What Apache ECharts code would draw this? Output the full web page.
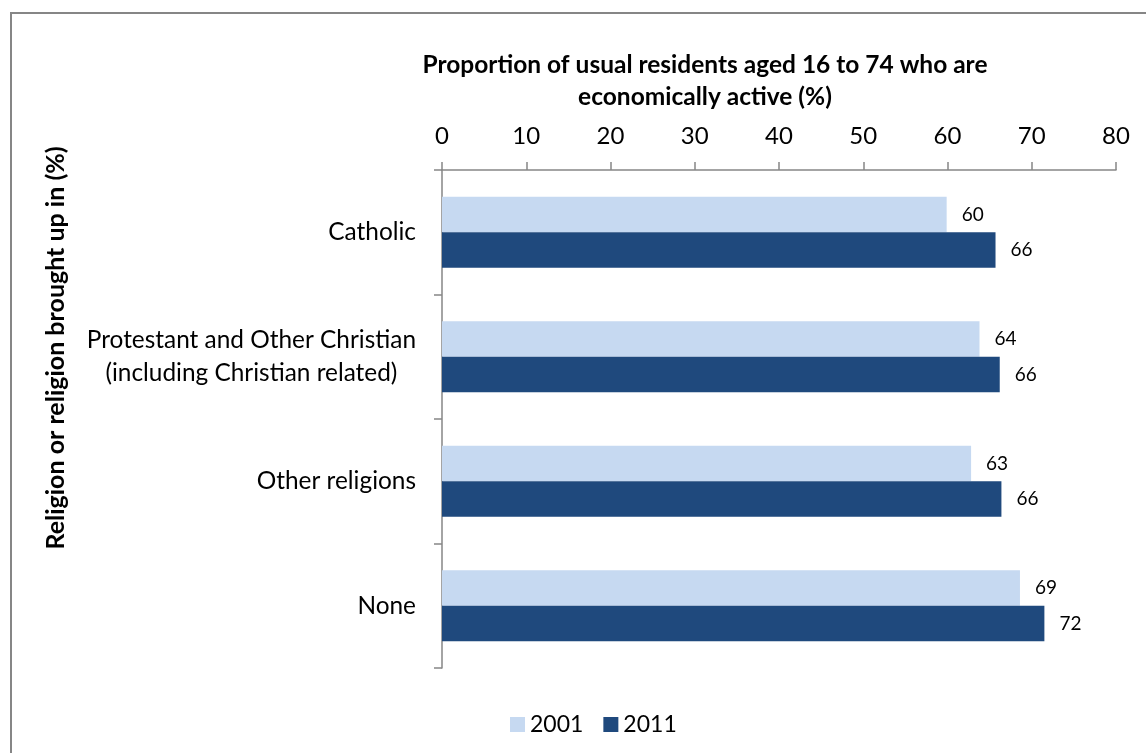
<!DOCTYPE html>
<html>
<head>
<meta charset="utf-8">
<script src="https://cdn.jsdelivr.net/npm/echarts@6/dist/echarts.min.js"></script>
<style>
html,body{margin:0;padding:0;background:#fff;}
#chart{width:1146px;height:753px;}
</style>
</head>
<body>
<div id="chart"></div>
<script>
const categories = ['Catholic', 'Protestant and Other Christian\n(including Christian related)', 'Other religions', 'None'];
const seriesNames = ['2001', '2011'];
const values2001 = [59.9, 63.8, 62.8, 68.6];
const values2011 = [65.7, 66.2, 66.4, 71.5];
const xTicks = { min: 0, max: 80, interval: 10 };
const xTitle = 'Proportion of usual residents aged 16 to 74 who are\neconomically active (%)';
const yTitle = 'Religion or religion brought up in (%)';

const FONT = 'Lato, "Open Sans", sans-serif';
const chart = echarts.init(document.getElementById('chart'), null, { renderer: 'canvas' });

const labelCfg = {
  show: true,
  position: 'right',
  distance: 15,
  color: '#000',
  fontFamily: FONT,
  fontSize: 19,
  formatter: p => String(Math.round(p.value))
};

chart.setOption({
  backgroundColor: '#fff',
  animation: false,
  grid: { left: 442, right: 30, top: 170, bottom: 85, containLabel: false },
  xAxis: {
    type: 'value',
    position: 'top',
    min: xTicks.min, max: xTicks.max, interval: xTicks.interval,
    splitLine: { show: false },
    axisLine: { show: true, lineStyle: { color: '#868686', width: 1.5 } },
    axisTick: { show: true, length: 8, lineStyle: { color: '#868686', width: 1.5 } },
    axisLabel: { color: '#000', fontFamily: FONT, fontSize: 24, margin: 22 }
  },
  yAxis: {
    type: 'category',
    inverse: true,
    data: categories,
    axisLine: { show: true, lineStyle: { color: '#868686', width: 1.5 } },
    axisTick: { show: true, length: 8, lineStyle: { color: '#868686', width: 1.5 } },
    axisLabel: {
      color: '#000', fontFamily: FONT, fontSize: 24.4, margin: 26, lineHeight: 33,
      formatter: v => v.split('\n').map(s => '{c|' + s + '}').join('\n'),
      rich: { c: { align: 'center', color: '#000', fontFamily: FONT, fontSize: 24.4, lineHeight: 33 } }
    }
  },
  legend: {
    data: seriesNames,
    left: 505, top: 708,
    icon: 'rect', itemWidth: 15, itemHeight: 15, itemGap: 20,
    textStyle: { color: '#000', fontFamily: FONT, fontSize: 23 }
  },
  series: [
    {
      name: seriesNames[0], type: 'bar', data: values2001,
      barGap: '0%', barCategoryGap: '43%',
      itemStyle: { color: '#C6D9F1' },
      label: labelCfg
    },
    {
      name: seriesNames[1], type: 'bar', data: values2011,
      barGap: '0%', barCategoryGap: '43%',
      itemStyle: { color: '#1F497D' },
      label: labelCfg
    }
  ],
  graphic: [
    { type: 'rect', shape: { x: 11, y: 13, width: 1300, height: 900 }, style: { fill: null, stroke: '#868686', lineWidth: 2 }, silent: true },
    { type: 'text', x: 705, y: 81, style: { text: xTitle, font: 'bold 24.5px ' + FONT, fill: '#000', textAlign: 'center', textVerticalAlign: 'middle', lineHeight: 32 } },
    { type: 'text', x: 56, y: 348, rotation: Math.PI / 2, style: { text: yTitle, font: 'bold 25px ' + FONT, fill: '#000', textAlign: 'center', textVerticalAlign: 'middle' } }
  ]
});
</script>
</body>
</html>
